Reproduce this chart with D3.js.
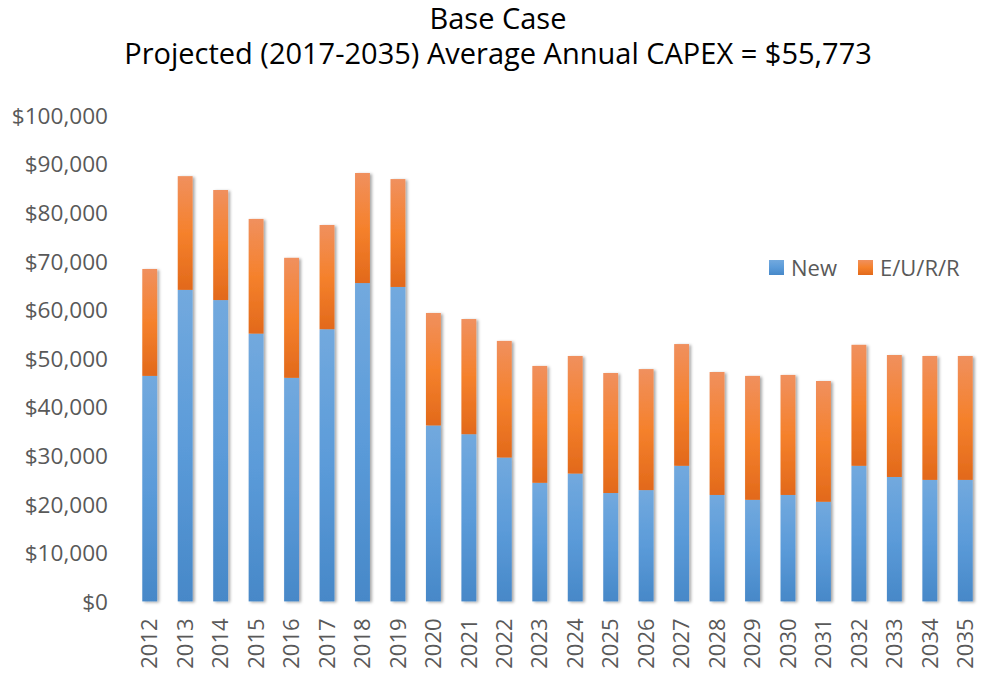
<!DOCTYPE html>
<html>
<head>
<meta charset="utf-8">
<script src="https://cdnjs.cloudflare.com/ajax/libs/d3/7.8.5/d3.min.js"></script>
<style>
  body { margin: 0; background: #fff; }
  svg { display: block; font-family: "Open Sans", sans-serif; }
</style>
</head>
<body>
<div id="chart"></div>
<script>
// chart data
var years = ["2012","2013","2014","2015","2016","2017","2018","2019","2020","2021","2022","2023",
             "2024","2025","2026","2027","2028","2029","2030","2031","2032","2033","2034","2035"];
var newVals = [46400, 64100, 62000, 55100, 46000, 56000, 65500, 64700, 36200, 34400, 29600, 24400,
               26300, 22300, 22900, 27900, 21900, 20900, 21900, 20500, 27900, 25600, 25000, 25000];
var eurrVals = [22000, 23400, 22650, 23600, 24700, 21450, 22650, 22200, 23150, 23700, 24000, 24050,
                24200, 24700, 24900, 25050, 25300, 25500, 24700, 24850, 24900, 25100, 25500, 25500];
var seriesNames = ["New", "E/U/R/R"];
var yTicks = [0, 10000, 20000, 30000, 40000, 50000, 60000, 70000, 80000, 90000, 100000];
var titleLines = ["Base Case", "Projected (2017-2035) Average Annual CAPEX = $55,773"];

var W = 981, H = 677;
var plotLeft = 132, plotRight = 983, plotTop = 115.4, plotBottom = 601.4;

var svg = d3.select("#chart").append("svg")
    .attr("width", W)
    .attr("height", H);

var defs = svg.append("defs");

var gBlue = defs.append("linearGradient").attr("id", "gBlue")
    .attr("x1", 0).attr("y1", 0).attr("x2", 0).attr("y2", 1);
gBlue.append("stop").attr("offset", "0%").attr("stop-color", "#72a9de");
gBlue.append("stop").attr("offset", "50%").attr("stop-color", "#5b9bd9");
gBlue.append("stop").attr("offset", "100%").attr("stop-color", "#4788c8");

var gOrange = defs.append("linearGradient").attr("id", "gOrange")
    .attr("x1", 0).attr("y1", 0).attr("x2", 0).attr("y2", 1);
gOrange.append("stop").attr("offset", "0%").attr("stop-color", "#f0905e");
gOrange.append("stop").attr("offset", "50%").attr("stop-color", "#f5812c");
gOrange.append("stop").attr("offset", "100%").attr("stop-color", "#e2691b");

var shadow = defs.append("filter").attr("id", "shadow")
    .attr("x", "-50%").attr("y", "-10%").attr("width", "200%").attr("height", "120%");
shadow.append("feDropShadow").attr("dx", 2).attr("dy", 1).attr("stdDeviation", 1.8)
    .attr("flood-color", "#000").attr("flood-opacity", 0.35);

var lineShadow = defs.append("filter").attr("id", "lineShadow")
    .attr("x", "-5%").attr("y", "-200%").attr("width", "110%").attr("height", "500%");
lineShadow.append("feDropShadow").attr("dx", 0).attr("dy", 1).attr("stdDeviation", 0.8)
    .attr("flood-color", "#000").attr("flood-opacity", 0.25);

var x = d3.scaleBand()
    .domain(years)
    .range([plotLeft, plotRight])
    .paddingInner(0.58)
    .paddingOuter(0.29);

var y = d3.scaleLinear()
    .domain([0, 100000])
    .range([plotBottom, plotTop]);

// gridlines
svg.append("g")
  .selectAll("line")
  .data(yTicks)
  .enter()
  .append("line")
    .attr("x1", plotLeft)
    .attr("x2", W)
    .attr("y1", function(d){ return y(d); })
    .attr("y2", function(d){ return y(d); })
    .attr("stroke", "#d9d9d9")
    .attr("stroke-width", 1.5)
    .attr("filter", "url(#lineShadow)");

// y axis labels
var yAxis = d3.axisLeft(y)
    .tickValues(yTicks)
    .tickSize(0)
    .tickPadding(0)
    .tickFormat(function(d){ return "$" + d3.format(",")(d); });

svg.append("g")
    .attr("transform", "translate(108,0)")
    .call(yAxis)
    .call(function(g){ g.select(".domain").remove(); })
    .selectAll("text")
      .attr("fill", "#595959")
      .attr("font-size", "22.6px")
      .attr("font-family", "Open Sans, sans-serif")
      .attr("dy", "0.35em");

// x axis labels
var xAxis = d3.axisBottom(x).tickSize(0).tickPadding(0);
svg.append("g")
    .attr("transform", "translate(0," + (plotBottom + 17) + ")")
    .call(xAxis)
    .call(function(g){ g.select(".domain").remove(); })
    .selectAll("text")
      .attr("fill", "#595959")
      .attr("font-size", "22px")
      .attr("font-family", "Open Sans, sans-serif")
      .attr("transform", "rotate(-90)")
      .attr("text-anchor", "end")
      .attr("x", 0)
      .attr("y", 0)
      .attr("dy", "0.35em");

// stacked bars
var rows = years.map(function(yr, i){
  return { year: yr, New: newVals[i], "E/U/R/R": eurrVals[i] };
});
var stack = d3.stack().keys(seriesNames)(rows);
var fills = ["url(#gBlue)", "url(#gOrange)"];

var barsG = svg.append("g").attr("filter", "url(#shadow)");
barsG.selectAll("g")
  .data(stack)
  .enter()
  .append("g")
    .attr("fill", function(d, i){ return fills[i]; })
  .selectAll("rect")
  .data(function(d){ return d; })
  .enter()
  .append("rect")
    .attr("x", function(d){ return x(d.data.year); })
    .attr("width", x.bandwidth())
    .attr("y", function(d){ return y(d[1]); })
    .attr("height", function(d){ return y(d[0]) - y(d[1]); });

// legend
var legendX = [769, 858];
var legend = svg.append("g");
seriesNames.forEach(function(name, i){
  legend.append("rect")
    .attr("x", legendX[i])
    .attr("y", 260)
    .attr("width", 15)
    .attr("height", 15)
    .attr("fill", fills[i]);
  legend.append("text")
    .attr("x", legendX[i] + 22)
    .attr("y", 268)
    .attr("dy", "0.35em")
    .attr("fill", "#595959")
    .attr("font-size", "22px")
    .text(name);
});

// title
svg.append("g")
  .selectAll("text")
  .data(titleLines)
  .enter()
  .append("text")
    .attr("x", 498)
    .attr("y", function(d, i){ return 29 + i * 35; })
    .attr("text-anchor", "middle")
    .attr("fill", "#000")
    .attr("font-size", "29px")
    .text(function(d){ return d; });
</script>
</body>
</html>
